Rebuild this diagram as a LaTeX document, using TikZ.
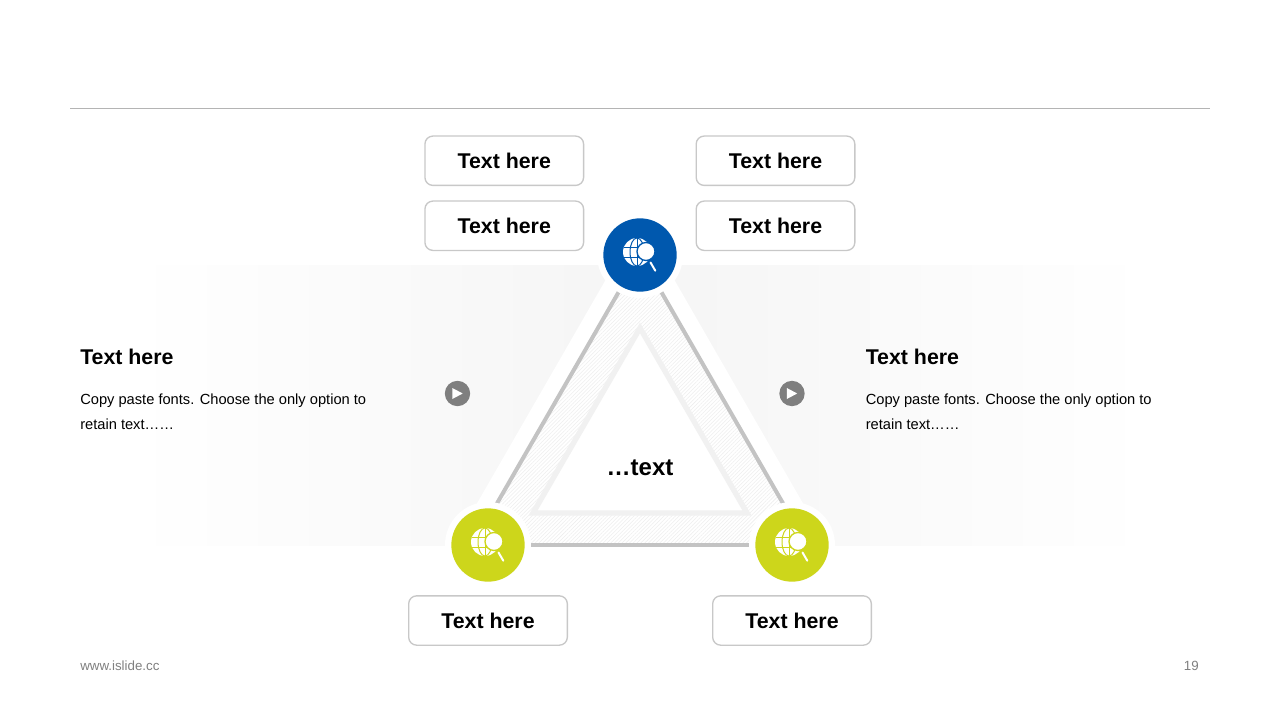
\documentclass[tikz,border=0pt]{standalone}
\usepackage{fontspec}
\setmainfont{Liberation Sans}
\usetikzlibrary{patterns.meta}
\definecolor{rulegray}{HTML}{B4B4B4}
\definecolor{boxgray}{HTML}{C8C8C8}
\definecolor{sidegray}{HTML}{C3C3C3}
\definecolor{innergray}{HTML}{F1F1F1}
\definecolor{hatchgray}{HTML}{EEEEEE}
\definecolor{bandgray}{HTML}{F5F5F5}
\definecolor{playgray}{HTML}{7F7F7F}
\definecolor{footgray}{HTML}{808080}
\definecolor{hubblue}{HTML}{0058AE}
\definecolor{hubgreen}{HTML}{CDD61B}
\tikzstyle{labelbox}=[draw=boxgray,fill=white,line width=1pt,rounded corners=6pt,minimum width=119pt,minimum height=37pt,inner sep=0pt,font=\fontsize{16pt}{18pt}\selectfont\bfseries]
\tikzstyle{hub}=[circle,minimum size=55pt,inner sep=0pt]
\tikzstyle{halo}=[circle,fill=white,minimum size=64.5pt,inner sep=0pt]
\tikzstyle{playdot}=[circle,fill=playgray,minimum size=19pt,inner sep=0pt]
\tikzstyle{heading}=[anchor=west,inner sep=0pt,font=\fontsize{16pt}{18pt}\selectfont\bfseries]
\tikzstyle{bodytext}=[anchor=north west,inner sep=0pt,align=left,font=\fontsize{11pt}{18.75pt}\selectfont]
\tikzstyle{foot}=[inner sep=0pt,text=footgray,font=\fontsize{10pt}{11pt}\selectfont]
\begin{document}
\begin{tikzpicture}[x=0.75pt,y=-0.75pt]

\fill[white] (0,0) rectangle (1280,720);
\useasboundingbox (0,0) rectangle (1280,720);

\coordinate (ruleleft) at (70,108.5);
\coordinate (ruleright) at (1210,108.5);
\draw[rulegray, line width=0.75pt] (ruleleft) -- (ruleright);

%bands
\shade[left color=white, right color=bandgray] (130,265) rectangle (640,545);
\shade[left color=bandgray, right color=white] (640,265) rectangle (1150,545);

%triangle
\coordinate (apex) at (640,255);
\coordinate (cornerl) at (473,545);
\coordinate (cornerr) at (807,545);
\coordinate (innertop) at (640,328);
\coordinate (innerl) at (533,513);
\coordinate (innerr) at (747,513);

\draw[white, line width=26pt, line join=miter, fill=white] (apex) -- (cornerl) -- (cornerr) -- cycle;
\fill[pattern={Lines[angle=45,distance=2pt,line width=0.4pt]}, pattern color=hatchgray] (apex) -- (cornerl) -- (cornerr) -- cycle;
\draw[innergray, line width=4pt, line join=miter, fill=white] (innertop) -- (innerl) -- (innerr) -- cycle;
\foreach \source/\dest in {apex/cornerl, apex/cornerr, cornerl/cornerr}
    \draw[sidegray, line width=3pt] (\source) -- (\dest);

%hubs
\foreach \pos/\name/\col in {{(640,255)/hubtop/hubblue}, {(488,545)/hubleft/hubgreen}, {(792,545)/hubright/hubgreen}}
{
    \node[halo] at \pos {};
    \node[hub, fill=\col] (\name) at \pos {};
    \begin{scope}[shift={(\name)}]
        \fill[white] (-3,-3) circle (14);
        \draw[\col, line width=0.75pt] (-3,-17) -- (-3,11);
        \draw[\col, line width=0.75pt] (-3,-3) ellipse [x radius=7,y radius=14];
        \draw[\col, line width=0.75pt] (-16,-8) -- (10,-8) (-16,2) -- (10,2);
        \draw[\col, line width=1pt, fill=white] (6,-3.5) circle (9);
        \draw[white, line width=1.5pt, line cap=round] (10.5,7.5) -- (15.3,15.7);
    \end{scope}
}

%boxes
\foreach \pos/\name in {{(504.25,160.75)/boxa}, {(504.25,225.75)/boxb}, {(775.5,160.75)/boxc}, {(775.5,225.75)/boxd}, {(488,620.5)/boxe}, {(792,620.5)/boxf}}
    \node[labelbox] (\name) at \pos {Text here};

\node[inner sep=0pt, font=\fontsize{18pt}{20pt}\selectfont\bfseries] (centertext) at (640,467.5) {…text};

%play buttons
\foreach \pos/\name in {{(457.5,393.5)/playl}, {(792,393.5)/playr}}
{
    \node[playdot] (\name) at \pos {};
    \fill[white] ([shift={(-5.2,-5.5)}]\name.center) -- ([shift={(-5.2,5.5)}]\name.center) -- ([shift={(5.2,0)}]\name.center) -- cycle;
}

%side texts
\foreach \x/\name in {80/l, 865.5/r}
{
    \node[heading] (head\name) at (\x,356.5) {Text here};
    \node[bodytext] (body\name) at (\x,393.5) {Copy paste fonts. Choose the only option to\\retain text……};
}

\node[foot, anchor=west] (site) at (80,666) {www.islide.cc};
\node[foot, anchor=east] (pagenum) at (1199,666) {19};

\end{tikzpicture}
\end{document}
